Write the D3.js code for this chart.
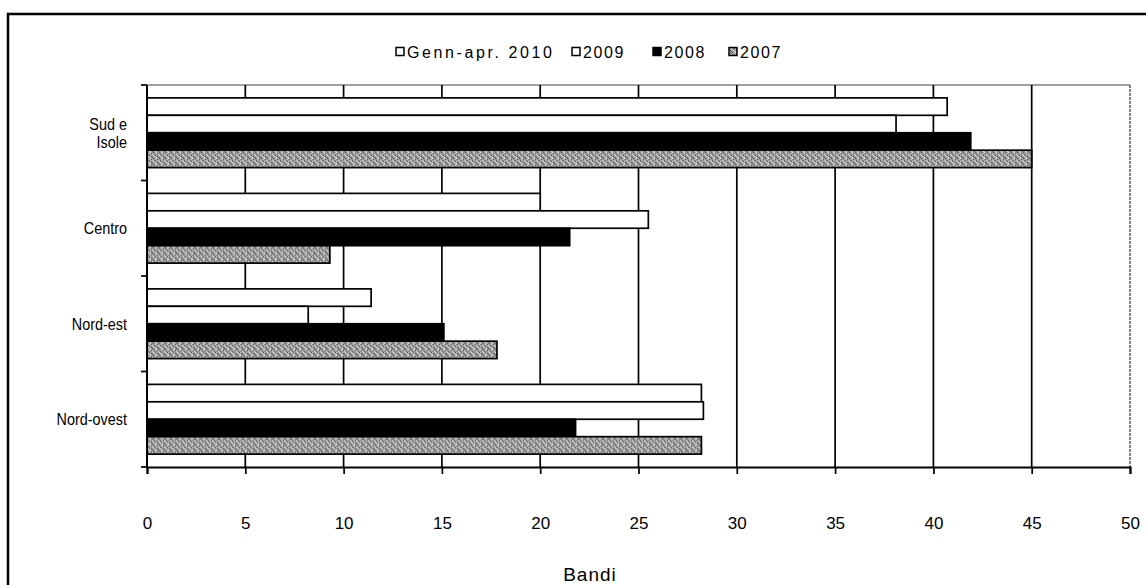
<!DOCTYPE html>
<html>
<head>
<meta charset="utf-8">
<script src="https://cdn.jsdelivr.net/npm/d3@7"></script>
<style>
  html, body { margin: 0; padding: 0; background: #fff; }
  svg { display: block; font-family: "Liberation Sans", Arial, sans-serif; }
</style>
</head>
<body>
<svg id="chart" width="1146" height="585"></svg>
<script>
// Regions (top to bottom) and the four periods
const categories = ["Sud e Isole", "Centro", "Nord-est", "Nord-ovest"];
const seriesNames = ["Genn-apr. 2010", "2009", "2008", "2007"];
const valuesGennApr2010 = [40.7, 20.0, 11.4, 28.2];
const values2009 = [38.1, 25.5, 8.2, 28.3];
const values2008 = [41.9, 21.5, 15.1, 21.8];
const values2007 = [45.0, 9.3, 17.8, 28.2];
const xTicks = [0, 5, 10, 15, 20, 25, 30, 35, 40, 45, 50];
const xTitle = "Bandi";

const seriesValues = [valuesGennApr2010, values2009, values2008, values2007];

const svg = d3.select("#chart");
const W = 1146, H = 585;
const plot = { left: 147, right: 1130, top: 85, bottom: 467 };

// Grey stipple used for the 2007 series
const defs = svg.append("defs");
const pat = defs.append("pattern")
  .attr("id", "stipple").attr("patternUnits", "userSpaceOnUse")
  .attr("width", 6).attr("height", 6);
pat.append("rect").attr("width", 6).attr("height", 6).attr("fill", "#979797");
[[0,0,"#e4e4e4"],[3,0,"#5a5a5a"],[5,1,"#d4d4d4"],[1,1,"#6a6a6a"],[2,2,"#dcdcdc"],
 [4,2,"#646464"],[0,3,"#cacaca"],[3,3,"#ececec"],[5,3,"#5c5c5c"],[1,4,"#565656"],
 [4,4,"#d8d8d8"],[2,5,"#666666"],[0,5,"#bebebe"],[5,5,"#e0e0e0"]]
  .forEach(([x, y, c]) => pat.append("rect").attr("x", x).attr("y", y)
    .attr("width", 1).attr("height", 1).attr("fill", c));

const fills = ["#ffffff", "#ffffff", "#000000", "url(#stipple)"];

// Outer frame
svg.append("rect").attr("x", 8).attr("y", 14)
  .attr("width", W + 10).attr("height", H + 10)
  .attr("fill", "none").attr("stroke", "#000").attr("stroke-width", 2.5);

const x = d3.scaleLinear().domain([0, 50]).range([plot.left, plot.right]);
const y = d3.scaleBand().domain(categories)
  .range([plot.top, plot.bottom]).paddingInner(0.27).paddingOuter(0.135);
const ySub = d3.scaleBand().domain(seriesNames).range([0, y.bandwidth()]);

// Plot border (top and right)
svg.append("line").attr("x1", plot.left).attr("x2", plot.right)
  .attr("y1", plot.top).attr("y2", plot.top)
  .attr("stroke", "#444").attr("stroke-width", 1.2);
svg.append("line").attr("x1", plot.right).attr("x2", plot.right)
  .attr("y1", plot.top).attr("y2", plot.bottom)
  .attr("stroke", "#333").attr("stroke-width", 1.2).attr("stroke-dasharray", "3,1");

// Vertical gridlines
svg.append("g").selectAll("line")
  .data(xTicks.filter(t => t > 0 && t < 50))
  .join("line")
  .attr("x1", d => x(d)).attr("x2", d => x(d))
  .attr("y1", plot.top).attr("y2", plot.bottom)
  .attr("stroke", "#000").attr("stroke-width", 1.7);

// Bars
const groups = svg.append("g").selectAll("g")
  .data(categories)
  .join("g")
  .attr("transform", d => `translate(0,${y(d)})`);

groups.selectAll("rect")
  .data((c, ci) => seriesNames.map((s, si) => ({ s, si, v: seriesValues[si][ci] })))
  .join("rect")
  .attr("x", x(0))
  .attr("y", d => ySub(d.s))
  .attr("width", d => x(d.v) - x(0))
  .attr("height", ySub.bandwidth())
  .attr("fill", d => fills[d.si])
  .attr("stroke", "#000").attr("stroke-width", 1.7);

// X axis
const xAxis = d3.axisBottom(x).tickValues(xTicks).tickSize(7).tickPadding(43)
  .tickFormat(d3.format("d"));
const gx = svg.append("g").attr("transform", `translate(0,${plot.bottom})`).call(xAxis);
gx.select(".domain").attr("stroke", "#000").attr("stroke-width", 2);
gx.selectAll(".tick line").attr("stroke", "#000").attr("stroke-width", 1.7);
gx.selectAll(".tick text").attr("font-size", 17).attr("fill", "#000")
  .attr("font-family", "Liberation Sans, Arial, sans-serif");

// Y axis line and boundary ticks
svg.append("line").attr("x1", plot.left).attr("x2", plot.left)
  .attr("y1", plot.top).attr("y2", plot.bottom)
  .attr("stroke", "#000").attr("stroke-width", 2);
const step = y.step();
const bounds = categories.map(c => y(c) - step * y.paddingInner() / 2)
  .concat([plot.bottom]);
bounds[0] = plot.top;
svg.append("g").selectAll("line").data(bounds).join("line")
  .attr("x1", plot.left - 6).attr("x2", plot.left)
  .attr("y1", d => d).attr("y2", d => d)
  .attr("stroke", "#000").attr("stroke-width", 1.7);

// Category labels, slightly condensed; "Sud e Isole" wraps over two lines
const labelLines = { "Sud e Isole": ["Sud e", "Isole"] };
const catLabels = svg.append("g").selectAll("text").data(categories).join("text")
  .attr("text-anchor", "end")
  .attr("font-size", 16)
  .attr("fill", "#000")
  .attr("transform", d => `translate(127,${y(d) + y.bandwidth() / 2 + 6}) scale(0.9,1)`);
catLabels.each(function (d) {
  const lines = labelLines[d] || [d];
  const t = d3.select(this);
  lines.forEach((ln, i) => {
    t.append("tspan").attr("x", 0)
      .attr("dy", i === 0 ? -(lines.length - 1) * 9 : 18)
      .text(ln);
  });
});

// X axis title
svg.append("text").attr("x", 590).attr("y", 581)
  .attr("text-anchor", "middle").attr("font-size", 19).attr("fill", "#000")
  .attr("letter-spacing", 1)
  .text(xTitle);

// Legend
const legendX = [396, 572, 653, 729];
const legend = svg.append("g").selectAll("g").data(seriesNames).join("g")
  .attr("transform", (d, i) => `translate(${legendX[i]},52)`);
legend.append("rect").attr("x", 0).attr("y", -4.5).attr("width", 8).attr("height", 8)
  .attr("fill", (d, i) => fills[i]).attr("stroke", "#000").attr("stroke-width", 1.5);
legend.append("text").attr("x", 11).attr("y", 6)
  .attr("font-size", 16).attr("letter-spacing", (d, i) => i === 0 ? 2.6 : 1.6)
  .attr("fill", "#000")
  .text(d => d);
</script>
</body>
</html>
